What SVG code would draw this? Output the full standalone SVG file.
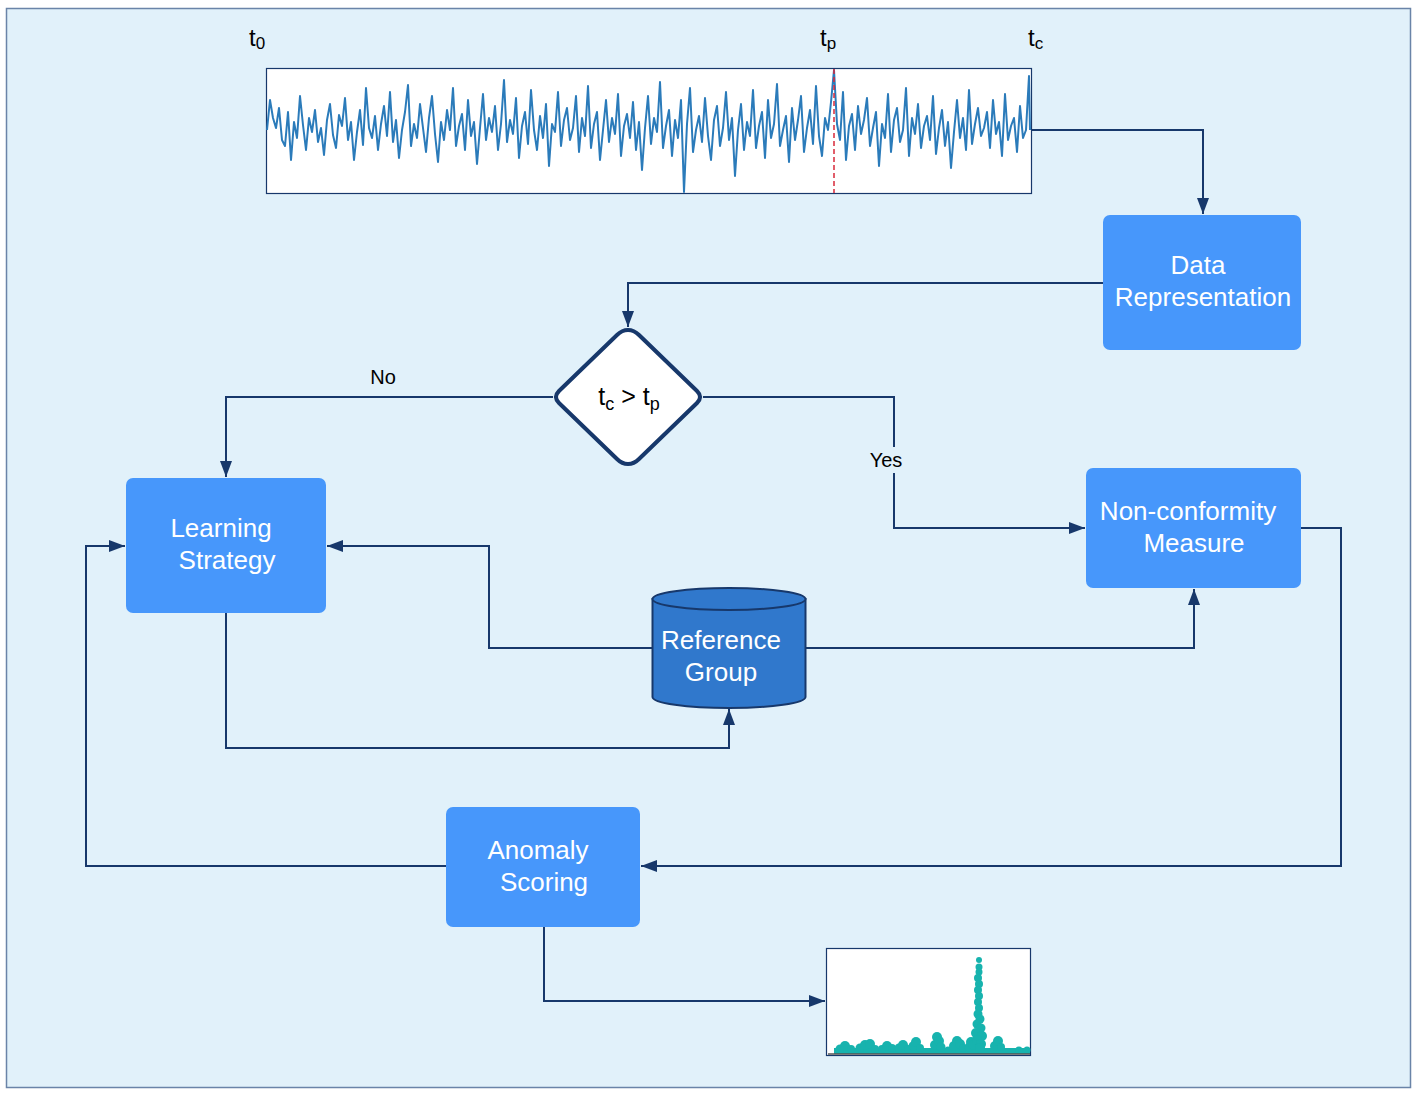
<svg xmlns="http://www.w3.org/2000/svg" width="1418" height="1098" viewBox="0 0 1418 1098">
<defs>
<style>
.box{fill:#4797FB;}
.lbl{font-family:"Liberation Sans",Arial,sans-serif;font-size:26px;fill:#ffffff;text-anchor:middle;}
.blk{font-family:"Liberation Sans",Arial,sans-serif;fill:#000000;}
.con{fill:none;stroke:#17386B;stroke-width:2;}
</style>
<marker id="arr" viewBox="0 0 16 12" refX="16" refY="6" markerWidth="16" markerHeight="12" markerUnits="userSpaceOnUse" orient="auto">
<path d="M0,0 L16,6 L0,12 Z" fill="#17386B"/>
</marker>
</defs>
<rect x="6.5" y="8.5" width="1404" height="1079" fill="#E1F1FA" stroke="#6A84A8" stroke-width="1.5"/>

<g id="timeseries">
<rect x="266.5" y="68.5" width="765" height="125" fill="#ffffff" stroke="#17386B" stroke-width="1.2"/>
<path fill="none" stroke="#2B7BBA" stroke-width="2" stroke-linejoin="round" d="M267,130 270,100 273,118 276,128 279,108 282,140 285,146 288,112 291,160 294,122 297,138 300,96 303,125 306,150 309,118 312,132 315,110 318,142 321,128 324,155 327,120 330,104 333,135 336,148 339,115 342,126 345,98 348,140 351,122 354,160 357,132 360,110 363,145 366,88 369,128 372,138 375,116 378,150 381,124 384,106 387,136 390,92 393,142 396,120 399,158 402,130 405,112 408,85 411,146 414,124 417,138 420,104 423,128 426,152 429,118 432,96 435,134 438,162 441,122 444,140 447,110 450,130 453,88 456,146 459,126 462,114 465,150 468,100 471,136 474,122 477,164 480,128 483,94 486,140 489,118 492,132 495,106 498,150 501,124 504,80 507,142 510,120 513,134 516,98 519,158 522,126 525,112 528,144 531,90 534,130 537,150 540,116 543,138 546,104 549,166 552,124 555,132 558,92 561,146 564,120 567,108 570,140 573,128 576,96 579,152 582,118 585,136 588,86 591,148 594,124 597,112 600,160 603,130 606,100 609,142 612,118 615,134 618,94 621,156 624,126 627,114 630,138 633,102 636,150 639,122 642,170 645,128 648,96 651,144 654,118 657,132 660,82 663,148 666,126 669,110 672,156 675,120 678,138 681,100 684,192 687,124 690,88 693,152 696,130 699,116 702,142 705,98 708,136 711,160 714,120 717,106 720,146 723,128 726,92 729,140 732,118 735,176 738,130 741,104 744,150 747,122 750,136 753,90 756,148 759,126 762,112 765,158 768,100 771,138 774,124 777,84 780,146 783,130 786,116 789,162 792,108 795,140 798,120 801,96 804,152 807,128 810,110 813,144 816,86 819,136 822,156 825,118 828,130 831,102 834,70 837,124 840,140 843,92 846,160 849,126 852,114 855,150 858,106 861,134 864,120 867,98 870,146 873,128 876,112 879,166 882,124 885,138 888,94 891,152 894,120 897,108 900,142 903,130 906,88 909,156 912,118 915,134 918,104 921,148 924,126 927,116 930,140 933,96 936,154 939,128 942,110 945,146 948,122 951,168 954,132 957,100 960,138 963,118 966,150 969,90 972,144 975,124 978,108 981,136 984,128 987,112 990,148 993,100 996,134 999,122 1002,156 1005,94 1008,140 1011,126 1014,118 1017,152 1020,106 1023,138 1026,130 1029,76 1030,130"/>
<line x1="834" y1="69" x2="834" y2="193" stroke="#D8283A" stroke-width="1.5" stroke-dasharray="5,3"/>
<text class="blk" x="249" y="46" font-size="24">t<tspan font-size="17" dy="3">0</tspan></text>
<text class="blk" x="820" y="46" font-size="24">t<tspan font-size="17" dy="3">p</tspan></text>
<text class="blk" x="1028" y="46" font-size="24">t<tspan font-size="17" dy="3">c</tspan></text>
</g>

<g id="scorechart">
<rect x="826.5" y="948.5" width="204" height="107" fill="#ffffff" stroke="#17386B" stroke-width="1.2"/>
<g fill="#17B3AE">
<rect x="834" y="1048" width="196" height="6"/>
<circle cx="840" cy="1049" r="4.5"/><circle cx="845" cy="1046" r="5"/><circle cx="851" cy="1049" r="4"/>
<circle cx="860" cy="1048" r="4.5"/><circle cx="865" cy="1045" r="5"/><circle cx="870" cy="1044" r="5"/><circle cx="875" cy="1049" r="4"/>
<circle cx="882" cy="1049" r="4"/><circle cx="887" cy="1046" r="5"/><circle cx="892" cy="1048" r="4"/>
<circle cx="899" cy="1048" r="4.5"/><circle cx="903" cy="1045" r="5"/><circle cx="908" cy="1049" r="4"/>
<circle cx="913" cy="1046" r="4.5"/><circle cx="916" cy="1042" r="5"/><circle cx="920" cy="1048" r="4"/>
<circle cx="935" cy="1045" r="5"/><circle cx="937" cy="1037" r="5"/><circle cx="939" cy="1041" r="5"/><circle cx="941" cy="1047" r="4.5"/>
<circle cx="948" cy="1050" r="3.5"/>
<circle cx="954" cy="1046" r="5"/><circle cx="957" cy="1041" r="5"/><circle cx="960" cy="1044" r="5"/><circle cx="963" cy="1048" r="4"/>
<circle cx="969" cy="1047" r="4.5"/><circle cx="971" cy="1042" r="5"/><circle cx="973" cy="1045" r="4.5"/>
<circle cx="979" cy="960" r="3"/><circle cx="979" cy="967" r="3.5"/><circle cx="979" cy="972" r="3.5"/><circle cx="978" cy="978" r="4"/><circle cx="979" cy="984" r="4"/><circle cx="978" cy="990" r="4"/><circle cx="979" cy="996" r="4"/><circle cx="978" cy="1002" r="4"/><circle cx="979" cy="1008" r="4"/><circle cx="978" cy="1014" r="4.5"/><circle cx="980" cy="1019" r="4.5"/><circle cx="977" cy="1024" r="4.5"/><circle cx="981" cy="1028" r="4.5"/><circle cx="976" cy="1033" r="5"/><circle cx="982" cy="1036" r="5"/><circle cx="977" cy="1040" r="5"/><circle cx="981" cy="1044" r="5"/><circle cx="980" cy="1048" r="5"/>
<circle cx="995" cy="1046" r="5"/><circle cx="998" cy="1041" r="5"/><circle cx="1001" cy="1047" r="4"/>
<circle cx="1019" cy="1050" r="3.5"/><circle cx="1027" cy="1050" r="3.5"/>
</g>
<line x1="828" y1="1054" x2="1030" y2="1054" stroke="#555555" stroke-width="1.5"/>
</g>

<g id="connectors">
<polyline class="con" points="1031,130 1203,130 1203,214" marker-end="url(#arr)"/>
<polyline class="con" points="1103,283 628,283 628,327" marker-end="url(#arr)"/>
<polyline class="con" points="553,397 226,397 226,477" marker-end="url(#arr)"/>
<polyline class="con" points="703,397 894,397 894,528 1085,528" marker-end="url(#arr)"/>
<polyline class="con" points="652,648 489,648 489,546 327,546" marker-end="url(#arr)"/>
<polyline class="con" points="806,648 1194,648 1194,589" marker-end="url(#arr)"/>
<polyline class="con" points="226,613 226,748 729,748 729,709" marker-end="url(#arr)"/>
<polyline class="con" points="1301,528 1341,528 1341,866 641,866" marker-end="url(#arr)"/>
<polyline class="con" points="446,866 86,866 86,546 125,546" marker-end="url(#arr)"/>
<polyline class="con" points="544,927 544,1001 825,1001" marker-end="url(#arr)"/>
<text class="blk" x="383" y="384" font-size="20" text-anchor="middle">No</text>
<rect x="866" y="447" width="40" height="26" fill="#E1F1FA"/>
<text class="blk" x="886" y="467" font-size="20" text-anchor="middle">Yes</text>
</g>

<g id="data-representation">
<rect class="box" x="1103" y="215" width="198" height="135" rx="7"/>
<text class="lbl" x="1198" y="274">Data</text>
<text class="lbl" x="1203" y="306">Representation</text>
</g>

<g id="decision">
<path d="M628,330 Q634,330 639,335 L697,391 Q703,397 697,403 L639,459 Q634,464 628,464 Q622,464 617,459 L559,403 Q553,397 559,391 L617,335 Q622,330 628,330 Z" fill="#ffffff" stroke="#17386B" stroke-width="4" stroke-linejoin="round"/>
<text class="blk" x="629" y="405" font-size="25" text-anchor="middle">t<tspan font-size="18" dy="5">c</tspan><tspan dy="-5"> &gt; t</tspan><tspan font-size="18" dy="5">p</tspan></text>
</g>

<g id="learning-strategy">
<rect class="box" x="126" y="478" width="200" height="135" rx="7"/>
<text class="lbl" x="221" y="537">Learning</text>
<text class="lbl" x="227" y="569">Strategy</text>
</g>

<g id="non-conformity">
<rect class="box" x="1086" y="468" width="215" height="120" rx="7"/>
<text class="lbl" x="1188" y="520">Non-conformity</text>
<text class="lbl" x="1194" y="552">Measure</text>
</g>

<g id="reference-group">
<path d="M652.5,599 L652.5,697 A76.5,11 0 0 0 805.5,697 L805.5,599 Z" fill="#3078CC" stroke="#17386B" stroke-width="2"/>
<ellipse cx="729" cy="599" rx="76.5" ry="11" fill="#3078CC" stroke="#17386B" stroke-width="2"/>
<text class="lbl" x="721" y="649">Reference</text>
<text class="lbl" x="721" y="681">Group</text>
</g>

<g id="anomaly-scoring">
<rect class="box" x="446" y="807" width="194" height="120" rx="7"/>
<text class="lbl" x="538" y="859">Anomaly</text>
<text class="lbl" x="544" y="891">Scoring</text>
</g>
</svg>
